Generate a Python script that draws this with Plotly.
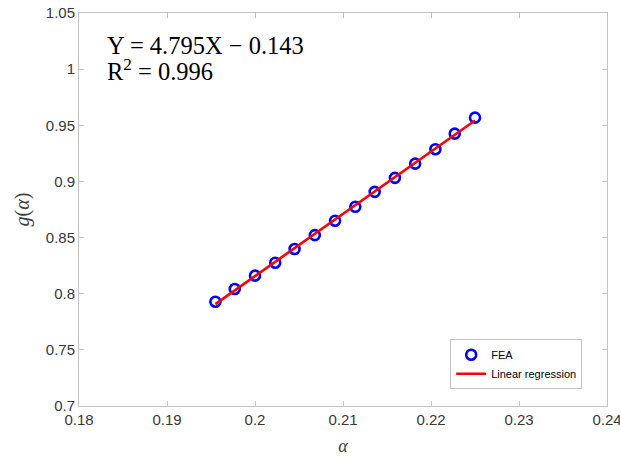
import numpy as np
import plotly.graph_objects as go

# Data
alpha = [0.1955, 0.1977, 0.2000, 0.2023, 0.2045, 0.2068, 0.2091,
         0.2114, 0.2136, 0.2159, 0.2182, 0.2205, 0.2227, 0.2250]
g_alpha = [0.7929, 0.8042, 0.8161, 0.8276, 0.8398, 0.8522, 0.8650,
           0.8774, 0.8907, 0.9032, 0.9159, 0.9287, 0.9426, 0.9568]

x_ticks = [0.18, 0.19, 0.20, 0.21, 0.22, 0.23, 0.24]
x_ticklabels = ["0.18", "0.19", "0.2", "0.21", "0.22", "0.23", "0.24"]
y_ticks = [0.7, 0.75, 0.8, 0.85, 0.9, 0.95, 1.0, 1.05]
y_ticklabels = ["0.7", "0.75", "0.8", "0.85", "0.9", "0.95", "1", "1.05"]

eq_line1 = "Y = 4.795X − 0.143"
eq_line2 = "R<sup>2</sup> = 0.996"

# Regression line fitted from the data
coef = np.polyfit(alpha, g_alpha, 1)
fit_x = [min(alpha), max(alpha)]
fit_y = list(np.polyval(coef, fit_x))

fig = go.Figure()
fig.add_trace(go.Scatter(
    x=alpha, y=g_alpha, mode="markers", name="FEA",
    marker=dict(symbol="circle-open", size=10, color="#0000ff",
                line=dict(width=2.6, color="#0000ff")),
))
fig.add_trace(go.Scatter(
    x=fit_x, y=fit_y, mode="lines", name="Linear regression",
    line=dict(color="#ff0000", width=2.6),
))

axis_common = dict(
    showline=True, linecolor="#c4c4c4", linewidth=1, mirror="ticks",
    ticks="inside", ticklen=5, tickcolor="#c4c4c4",
    showgrid=False, zeroline=False, automargin=False,
    ticklabeloverflow="allow",
    tickfont=dict(family="Liberation Sans, Arial", size=15, color="#383838"),
)

fig.update_xaxes(
    range=[0.18, 0.24], tickvals=x_ticks, ticktext=x_ticklabels,
    title=dict(text="<i>α</i>", font=dict(family="Liberation Serif, serif", size=18, color="#404040"),
               standoff=12),
    **axis_common,
)
fig.update_yaxes(
    range=[0.7, 1.05], tickvals=y_ticks, ticktext=y_ticklabels,
    title=dict(text="<i>g</i>(<i>α</i>)", font=dict(family="Liberation Serif, serif", size=20, color="#404040"),
               standoff=10),
    **axis_common,
)

fig.add_annotation(
    x=0.05, y=0.917, xref="paper", yref="paper", xanchor="left", yanchor="middle",
    text=eq_line1, showarrow=False, align="left",
    font=dict(family="Liberation Serif, serif", size=24.5, color="#000000"),
)
fig.add_annotation(
    x=0.05, y=0.856, xref="paper", yref="paper", xanchor="left", yanchor="middle",
    text=eq_line2, showarrow=False, align="left",
    font=dict(family="Liberation Serif, serif", size=24.5, color="#000000"),
)

fig.update_layout(
    width=620, height=456,
    margin=dict(l=79, r=13, t=13, b=50),
    paper_bgcolor="white", plot_bgcolor="white",
    showlegend=True,
    legend=dict(x=0.703, y=0.17, xanchor="left", yanchor="top",
                bgcolor="white", bordercolor="#c4c4c4", borderwidth=1,
                font=dict(family="Liberation Sans, Arial", size=11, color="#000000"),
                tracegroupgap=0, itemwidth=30),
)

fig.write_html("out.html")
